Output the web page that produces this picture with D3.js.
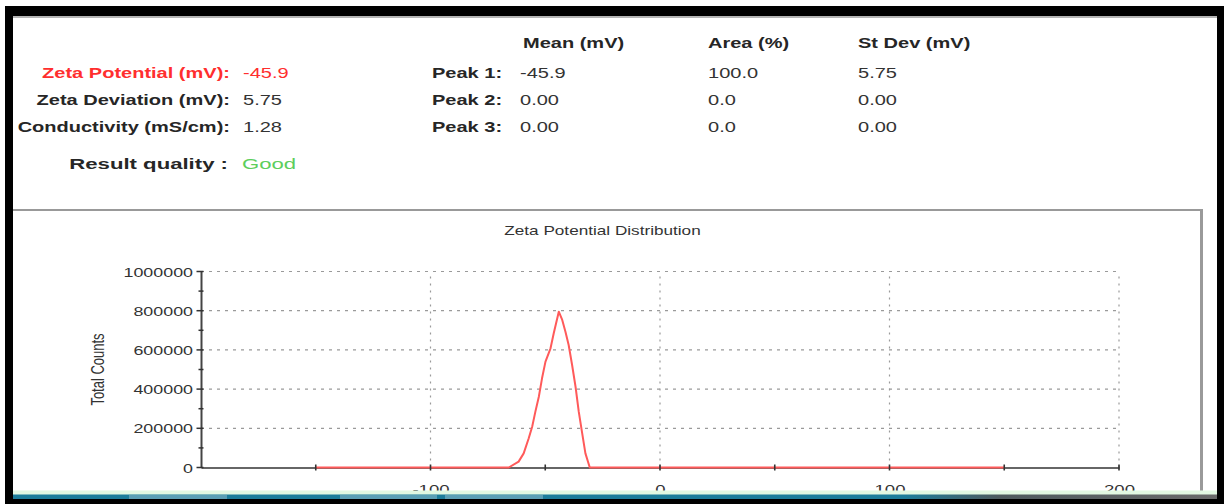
<!DOCTYPE html>
<html><head><meta charset="utf-8">
<script src="https://cdn.jsdelivr.net/npm/d3@7"></script>
<style>
body{margin:0;background:#fff}
svg{display:block}
text{font-family:"Liberation Sans",Arial,Helvetica,sans-serif}
</style>
</head><body>
<svg id="c" width="1224" height="504"></svg>
<script>
// ---------- data ----------
const summaryLabels = ["Zeta Potential (mV):", "Zeta Deviation (mV):", "Conductivity (mS/cm):"];
const summaryValues = ["-45.9", "5.75", "1.28"];
const qualityLabel = "Result quality :";
const qualityValue = "Good";
const peakHeaders = ["Mean (mV)", "Area (%)", "St Dev (mV)"];
const peakLabels = ["Peak 1:", "Peak 2:", "Peak 3:"];
const peakMeans = ["-45.9", "0.00", "0.00"];
const peakAreas = ["100.0", "0.0", "0.0"];
const peakStDevs = ["5.75", "0.00", "0.00"];
const chartTitle = "Zeta Potential Distribution";
const yAxisTitle = "Total Counts";

const zetaMv = [-150, -65.9, -61.6, -59.4, -57.2, -55.7, -54.3, -52.8, -51.4, -49.9, -47.7, -46.3, -44.1,
                -42.6, -41.2, -39.8, -38.3, -36.8, -35.4, -33.9, -32.5, -30.6, 150];
const totalCounts = [0, 0, 30000, 72000, 149000, 208000, 285000, 361000, 455000, 540000, 608000, 685000, 795000,
                     753000, 693000, 625000, 523000, 412000, 285000, 174000, 72000, 0, 0];

const yTicks = [0, 200000, 400000, 600000, 800000, 1000000];
const yMinorTicks = [100000, 300000, 500000, 700000, 900000];
const xTickLabels = [-100, 0, 100, 200];
const xTicks = [-150, -100, -50, 0, 50, 100, 150, 200];
const xGrid = [-100, 0, 100, 200];
const yGrid = [200000, 400000, 600000, 800000, 1000000];

// ---------- setup ----------
const SX = 1.43; // horizontal stretch of the original screenshot
const svg = d3.select("#c");
svg.append("rect").attr("width", 1224).attr("height", 504).attr("fill", "#fff");

function txt(g, x, y, s, o) {
  o = o || {};
  return g.append("text")
    .attr("transform", `translate(${x},${y}) scale(${SX},1)` + (o.rot ? ` rotate(${o.rot})` : ""))
    .attr("text-anchor", o.anchor || "start")
    .attr("font-size", o.size || 14)
    .attr("font-weight", o.bold ? "bold" : "normal")
    .attr("fill", o.fill || "#2b2b2b")
    .text(s);
}

// ---------- top summary ----------
const head = svg.append("g");
const rowY = [78, 105, 132];
summaryLabels.forEach((l, i) => {
  txt(head, 230, rowY[i], l, {anchor: "end", bold: true, fill: i === 0 ? "#ff2e2e" : "#262626"});
  txt(head, 243, rowY[i], summaryValues[i], {fill: i === 0 ? "#ff2e2e" : "#333"});
});
txt(head, 228, 168.5, qualityLabel, {anchor: "end", bold: true, size: 15.5, fill: "#262626"});
txt(head, 242, 168.5, qualityValue, {size: 15.5, fill: "#5cce5c"});

const colX = [523, 708, 858];
peakHeaders.forEach((h, i) => txt(head, colX[i], 48, h, {bold: true, fill: "#262626"}));
peakLabels.forEach((l, i) => {
  txt(head, 432, rowY[i], l, {bold: true, fill: "#262626"});
  txt(head, 520, rowY[i], peakMeans[i], {fill: "#333"});
  txt(head, 708, rowY[i], peakAreas[i], {fill: "#333"});
  txt(head, 858, rowY[i], peakStDevs[i], {fill: "#333"});
});

// ---------- chart panel border ----------
svg.append("line").attr("x1", 13).attr("x2", 1202).attr("y1", 210).attr("y2", 210)
  .attr("stroke", "#777").attr("stroke-width", 1.5);
svg.append("line").attr("x1", 1201.5).attr("x2", 1201.5).attr("y1", 209).attr("y2", 491)
  .attr("stroke", "#9a9a9a").attr("stroke-width", 3);

// ---------- scales ----------
const x = d3.scaleLinear().domain([-200, 200]).range([201, 1119]);
const y = d3.scaleLinear().domain([0, 1000000]).range([467.5, 271.5]);

const plot = svg.append("g");

// grid
plot.selectAll(".hg").data(yGrid).join("line")
  .attr("x1", x(-200)).attr("x2", x(200))
  .attr("y1", d => y(d)).attr("y2", d => y(d))
  .attr("stroke", "#9a9a9a").attr("stroke-width", 1.2).attr("stroke-dasharray", "3,5");
plot.selectAll(".vg").data(xGrid).join("line")
  .attr("x1", d => x(d)).attr("x2", d => x(d))
  .attr("y1", y(0)).attr("y2", y(1000000))
  .attr("stroke", "#9a9a9a").attr("stroke-width", 1.2).attr("stroke-dasharray", "2,5");

// title
txt(plot, 602.5, 235, chartTitle, {anchor: "middle", size: 12, fill: "#333"});

// y axis
const yAx = plot.append("g").attr("transform", `translate(${x(-200)},0)`)
  .call(d3.axisLeft(y).tickValues(yTicks).tickSize(0).tickPadding(0).tickFormat(d => String(d)));
yAx.select(".domain").attr("stroke", "#444").attr("stroke-width", 2);
yAx.selectAll(".tick text")
  .attr("x", 0).attr("dy", null)
  .attr("transform", `translate(-8,4.5) scale(${SX},1)`)
  .attr("font-size", 12.5).attr("fill", "#333")
  .attr("font-family", '"Liberation Sans",Arial,sans-serif');
plot.selectAll(".ymaj").data(yTicks).join("line")
  .attr("x1", x(-200) - 4.5).attr("x2", x(-200) + 2.5)
  .attr("y1", d => y(d)).attr("y2", d => y(d))
  .attr("stroke", "#333").attr("stroke-width", 1.5);
plot.selectAll(".ymin").data(yMinorTicks).join("line")
  .attr("x1", x(-200) - 2.5).attr("x2", x(-200) + 2.5)
  .attr("y1", d => y(d)).attr("y2", d => y(d))
  .attr("stroke", "#333").attr("stroke-width", 1.5);

txt(plot, 104, 369.5, yAxisTitle, {anchor: "middle", size: 13, rot: -90, fill: "#333"});

// x axis
const xAx = plot.append("g").attr("transform", `translate(0,${y(0)})`)
  .call(d3.axisBottom(x).tickValues(xTickLabels).tickSize(0).tickPadding(0).tickFormat(d => String(d)));
xAx.select(".domain").attr("stroke", "#333").attr("stroke-width", 1.6);
xAx.selectAll(".tick text")
  .attr("y", 0).attr("dy", null)
  .attr("transform", `translate(0,26) scale(${SX},1)`)
  .attr("font-size", 13).attr("fill", "#333")
  .attr("font-family", '"Liberation Sans",Arial,sans-serif');

// data line
const line = d3.line().x((d, i) => x(zetaMv[i])).y(d => y(d));
plot.append("path").datum(totalCounts)
  .attr("d", line).attr("fill", "none")
  .attr("stroke", "#ff5a5a").attr("stroke-width", 2).attr("stroke-linejoin", "round");

// x ticks on top
plot.selectAll(".xt").data(xTicks).join("line")
  .attr("x1", d => x(d)).attr("x2", d => x(d))
  .attr("y1", y(0) - 3).attr("y2", y(0) + 3)
  .attr("stroke", "#333").attr("stroke-width", 1.6);

// ---------- window frame ----------
const defs = svg.append("defs");
const grad = defs.append("linearGradient").attr("id", "tb").attr("x1", 0).attr("x2", 1);
grad.append("stop").attr("offset", "0").attr("stop-color", "#1d7d9b");
grad.append("stop").attr("offset", "0.74").attr("stop-color", "#1d7d9b");
grad.append("stop").attr("offset", "0.82").attr("stop-color", "#4f5a5e");
grad.append("stop").attr("offset", "1").attr("stop-color", "#6a6a6a");

svg.append("rect").attr("x", 13).attr("y", 490.5).attr("width", 1204).attr("height", 4.5).attr("fill", "#e2f8e2");
svg.append("rect").attr("x", 13).attr("y", 494.5).attr("width", 1204).attr("height", 5).attr("fill", "url(#tb)");
[[129, 98], [340, 97], [445, 98]].forEach(b =>
  svg.append("rect").attr("x", b[0]).attr("y", 495).attr("width", b[1]).attr("height", 4).attr("fill", "#5b9fb5"));

svg.append("rect").attr("x", 5).attr("y", 6).attr("width", 1219).attr("height", 10).attr("fill", "#000");
svg.append("rect").attr("x", 13).attr("y", 16).attr("width", 1204).attr("height", 2).attr("fill", "#b5b5b5");
svg.append("rect").attr("x", 5).attr("y", 6).attr("width", 8).attr("height", 498).attr("fill", "#000");
svg.append("rect").attr("x", 1217).attr("y", 6).attr("width", 7).attr("height", 498).attr("fill", "#000");
svg.append("rect").attr("x", 5).attr("y", 499).attr("width", 1219).attr("height", 5).attr("fill", "#000");
</script>
</body></html>
